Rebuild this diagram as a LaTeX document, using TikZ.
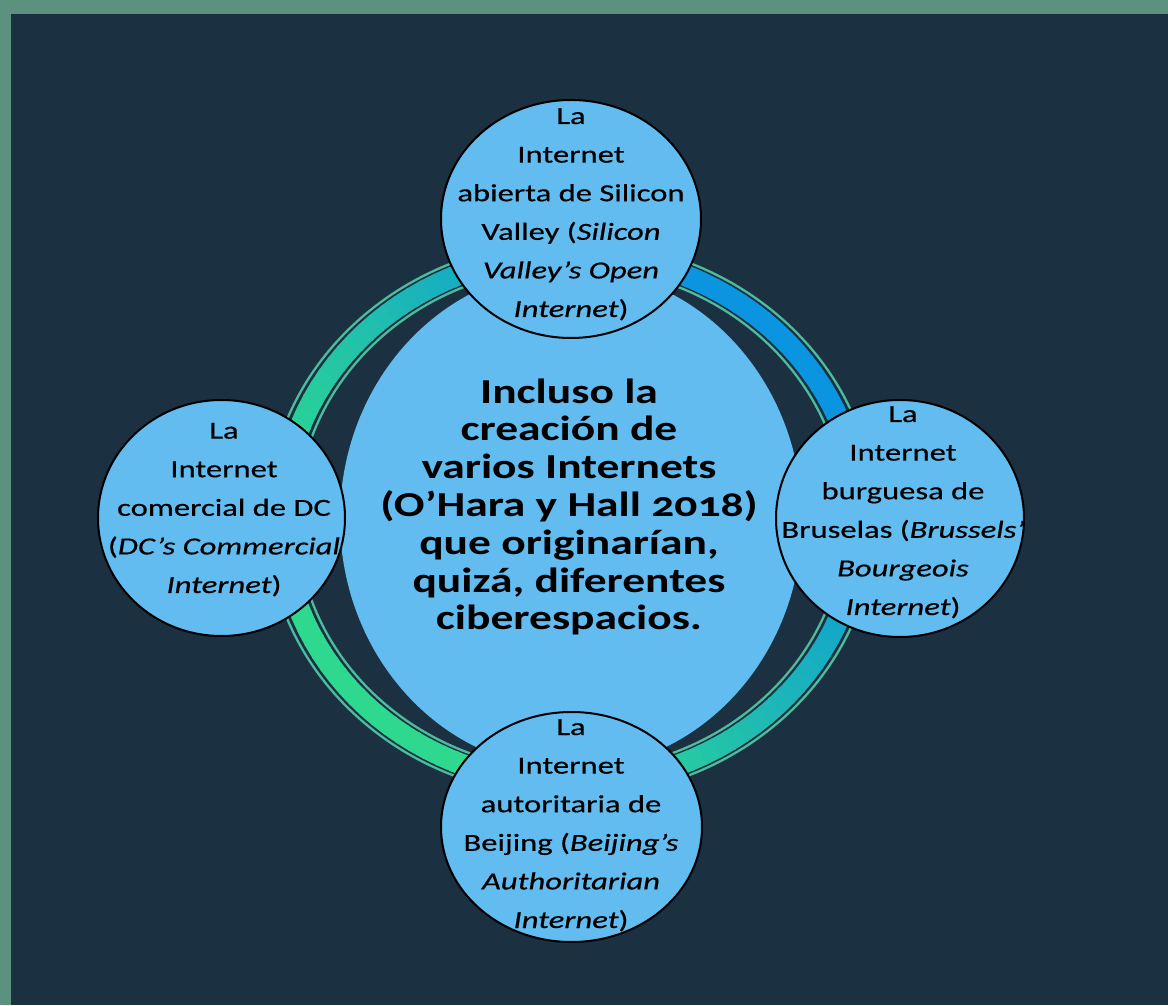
\documentclass[tikz,border=0pt]{standalone}
\usepackage{fontspec}
\setmainfont{Carlito}[FakeStretch=1.3, Numbers=OldStyle]
\newfontfamily\bubblefont{Carlito}[FakeStretch=1.33, FakeBold=0.5]
\usetikzlibrary{shapes.geometric}
\definecolor{bgdark}{HTML}{1B3141}
\definecolor{framegreen}{HTML}{5D917F}
\definecolor{bubblefill}{HTML}{62BCF0}
\definecolor{bandblue}{HTML}{0B95E0}
\definecolor{bandgreen}{HTML}{2ED88F}
\definecolor{ringcol}{HTML}{4CBB9E}
\begin{document}
\begin{tikzpicture}[x=1pt,y=1pt,
  bubble/.style={ellipse, draw=black, line width=2pt, fill=bubblefill, inner sep=0pt},
  hubshape/.style={ellipse, fill=bubblefill, inner sep=0pt},
  ringline/.style={draw=ringcol, line width=2.3pt},
  bandseg/.style={line width=21pt},
  smalltext/.style={align=center, font=\bubblefont\fontsize{24.5}{38.6}\selectfont, anchor=base, inner sep=0pt, text=black},
  bigtext/.style={align=center, font=\bfseries\fontsize{35}{37.8}\selectfont, anchor=base, inner sep=0pt, text=black}]
\useasboundingbox (0,0) rectangle (1168,1005);
\fill[framegreen] (0,0) rectangle (1168,1005);
\fill[bgdark] (11,0) rectangle (1168,991);
\coordinate (ctr) at (571,486);
% ring
\draw[ringline] (ctr) ellipse [x radius=304pt, y radius=278pt];
\draw[ringline] (ctr) ellipse [x radius=274pt, y radius=252pt];
\foreach \a in {0,3,...,357}{
  \ifnum\a<91 \def\p{100}\else
    \ifnum\a<180 \pgfmathtruncatemacro\p{100*pow((180-\a)/90,1.5)}\else
      \ifnum\a<271 \def\p{0}\else
        \pgfmathtruncatemacro\p{100*(\a-270)/90}\fi\fi\fi
  \draw[bandseg, draw=bandblue!\p!bandgreen] ([shift={(\a:289pt and 265pt)}]ctr) arc[start angle=\a, delta angle=3.5, x radius=289pt, y radius=265pt];
}
% central
\node[hubshape, minimum width=462pt, minimum height=500pt] (hub) at (ctr) {};
% small bubbles
\node[bubble, minimum width=260pt, minimum height=238pt] (sv) at (571,786) {};
\node[bubble, minimum width=247pt, minimum height=236pt] (dc) at (221.5,487) {};
\node[bubble, minimum width=248pt, minimum height=237pt] (br) at (900,486.5) {};
\node[bubble, minimum width=261pt, minimum height=230pt] (bj) at (571.5,178) {};
% texts (base anchor = baseline of last line)
\node[bigtext] (hubt) at (569,375) {Incluso la\\creación de\\varios Internets\\(O’Hara y Hall 2018)\\que originarían,\\quizá, diferentes\\ciberespacios.};
\node[smalltext] (svt) at (571,688) {La\\Internet\\abierta de Silicon\\Valley (\textit{Silicon}\\\textit{Valley’s Open}\\\textit{Internet})};
\node[smalltext] (dct) at (224,412) {La\\Internet\\comercial de DC\\(\textit{DC’s Commercial}\\\textit{Internet})};
\node[smalltext] (brt) at (903,390) {La\\Internet\\burguesa de\\Bruselas (\textit{Brussels’}\\\textit{Bourgeois}\\\textit{Internet})};
\node[smalltext] (bjt) at (571,77) {La\\Internet\\autoritaria de\\Beijing (\textit{Beijing’s}\\\textit{Authoritarian}\\\textit{Internet})};
\end{tikzpicture}
\end{document}
